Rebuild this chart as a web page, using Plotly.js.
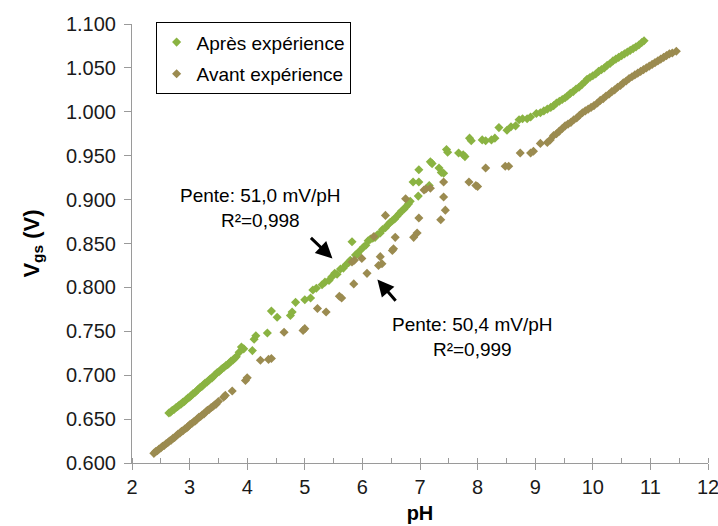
<!DOCTYPE html>
<html>
<head>
<meta charset="utf-8">
<script src="https://cdn.plot.ly/plotly-3.0.1.min.js"></script>
<style>html,body{margin:0;padding:0;background:#fff;}#chart{width:718px;height:526px;}</style>
</head>
<body>
<div id="chart"></div>
<script>
// "Après expérience" series
const apresPH = [2.64,2.67,2.70,2.73,2.76,2.79,2.82,2.85,2.88,2.91,2.94,2.97,3.00,3.03,3.06,3.09,3.12,3.15,3.18,3.21,3.24,3.27,3.30,3.33,3.36,3.39,3.42,3.45,3.48,3.51,3.54,3.57,3.60,3.63,3.66,3.69,3.72,3.75,3.78,3.81,
3.86,3.90,3.94,4.09,4.12,4.15,4.35,4.42,4.52,4.75,4.78,4.84,5.00,5.10,5.14,5.20,5.30,5.35,5.42,5.47,5.52,5.56,5.62,5.67,5.72,5.76,5.79,5.82,5.88,5.92,5.96,6.02,6.06,6.10,6.14,6.18,6.22,6.26,6.31,6.35,6.40,6.44,6.48,6.52,6.56,6.60,6.64,6.68,6.72,6.76,6.80,6.83,
6.88,6.98,6.97,6.98,7.16,7.18,7.21,7.33,7.37,7.41,7.46,7.48,7.67,7.75,7.78,7.86,7.89,8.08,8.14,8.24,8.30,8.37,8.51,8.58,8.66,8.72,8.78,8.86,8.92,9.02,9.09,9.15,9.21,9.27,9.32,9.37,9.42,9.47,9.52,9.56,9.61,9.66,9.71,9.76,9.81,9.86,9.90,9.95,10.00,10.05,10.10,10.15,10.20,10.25,10.30,10.35,10.40,10.45,10.50,10.55,10.60,10.65,10.70,10.75,10.80,10.85,10.89];
const apresV = [0.657,0.658,0.660,0.661,0.663,0.664,0.666,0.667,0.669,0.670,0.672,0.674,0.675,0.677,0.679,0.680,0.682,0.684,0.686,0.687,0.689,0.691,0.692,0.694,0.696,0.697,0.699,0.701,0.703,0.704,0.706,0.708,0.709,0.711,0.712,0.714,0.716,0.717,0.719,0.721,
0.726,0.732,0.730,0.728,0.741,0.745,0.748,0.773,0.766,0.768,0.772,0.783,0.786,0.788,0.797,0.799,0.803,0.806,0.808,0.812,0.816,0.815,0.821,0.822,0.826,0.828,0.831,0.852,0.837,0.838,0.842,0.846,0.848,0.853,0.855,0.856,0.857,0.860,0.862,0.866,0.868,0.871,0.874,0.876,0.878,0.881,0.884,0.887,0.889,0.892,0.895,0.898,
0.920,0.934,0.904,0.920,0.916,0.943,0.941,0.936,0.931,0.930,0.957,0.954,0.953,0.951,0.949,0.970,0.967,0.968,0.967,0.968,0.970,0.982,0.979,0.983,0.984,0.991,0.992,0.992,0.994,0.998,0.999,1.001,1.003,1.005,1.007,1.010,1.012,1.014,1.016,1.018,1.021,1.023,1.026,1.028,1.031,1.034,1.037,1.039,1.041,1.043,1.046,1.048,1.050,1.053,1.055,1.058,1.060,1.062,1.064,1.066,1.068,1.070,1.072,1.074,1.076,1.079,1.081];

// "Avant expérience" series
const avantPH = [2.38,2.41,2.44,2.47,2.50,2.53,2.56,2.59,2.62,2.65,2.68,2.71,2.74,2.77,2.80,2.83,2.86,2.89,2.92,2.95,2.98,3.01,3.04,3.07,3.10,3.13,3.16,3.19,3.22,3.25,3.28,3.31,3.34,3.37,3.40,3.43,3.46,3.50,
3.59,3.62,3.74,3.97,4.00,4.23,4.37,4.42,4.64,4.97,5.00,5.22,5.37,5.60,5.64,5.85,5.82,5.86,5.99,6.08,6.20,6.28,6.31,6.34,6.40,6.52,6.54,6.57,6.75,6.89,6.95,6.98,7.07,7.10,7.18,7.36,7.41,7.41,7.44,7.85,7.97,8.00,8.14,8.48,8.54,8.74,8.92,8.97,9.09,9.21,9.26,9.32,9.37,9.42,9.47,9.52,
9.57,9.62,9.67,9.72,9.77,9.82,9.87,9.92,9.97,10.02,10.08,10.13,10.18,10.23,10.28,10.33,10.38,10.43,10.48,10.53,10.58,10.63,10.68,10.73,10.78,10.83,10.88,10.93,10.98,11.03,11.08,11.13,11.18,11.23,11.28,11.33,11.38,11.45];
const avantV = [0.611,0.613,0.614,0.616,0.617,0.619,0.620,0.622,0.623,0.625,0.626,0.628,0.629,0.631,0.633,0.634,0.636,0.637,0.639,0.640,0.642,0.644,0.645,0.647,0.648,0.650,0.652,0.653,0.655,0.656,0.658,0.660,0.661,0.663,0.664,0.666,0.667,0.670,
0.675,0.677,0.682,0.694,0.697,0.717,0.718,0.719,0.749,0.751,0.753,0.776,0.772,0.790,0.788,0.804,0.829,0.831,0.833,0.816,0.858,0.825,0.835,0.827,0.882,0.842,0.844,0.857,0.901,0.857,0.862,0.879,0.911,0.912,0.913,0.877,0.903,0.920,0.888,0.920,0.916,0.915,0.936,0.938,0.938,0.953,0.953,0.955,0.964,0.965,0.968,0.973,0.975,0.978,0.981,0.984,
0.986,0.988,0.991,0.993,0.996,0.999,1.001,1.003,1.005,1.007,1.010,1.013,1.015,1.018,1.020,1.023,1.025,1.028,1.030,1.033,1.035,1.038,1.040,1.042,1.044,1.046,1.048,1.050,1.052,1.054,1.056,1.058,1.060,1.062,1.064,1.066,1.067,1.069];

const seriesNames = ["Après expérience", "Avant expérience"];
const xTitle = "pH";
const yTitle = "V<sub>gs</sub> (V)";
const noteApres = "Pente: 51,0 mV/pH<br>R²=0,998";
const noteAvant = "Pente: 50,4 mV/pH<br>R²=0,999";

const GREEN = "#8AB342";
const BROWN = "#9B8B50";
const FONT = "Liberation Sans, Arial, sans-serif";
const TXT = 19;

const traces = [
  {x: apresPH, y: apresV, type: "scatter", mode: "markers", name: seriesNames[0], legendgroup: "a",
   marker: {symbol: "diamond", size: 7, color: GREEN}},
  {x: avantPH, y: avantV, type: "scatter", mode: "markers", name: seriesNames[1], legendgroup: "b",
   marker: {symbol: "diamond", size: 7, color: BROWN}}
];

const layout = {
  width: 718, height: 526,
  margin: {l: 132, r: 10, t: 24, b: 63},
  paper_bgcolor: "#fff", plot_bgcolor: "#fff",
  font: {family: FONT, size: TXT, color: "#1a1a1a"},
  showlegend: true,
  legend: {x: 0.041, y: 1.004, xanchor: "left", yanchor: "top", bgcolor: "#fff",
           bordercolor: "#000", borderwidth: 1, font: {family: FONT, size: TXT, color: "#000"},
           traceorder: "grouped", tracegroupgap: 4, itemwidth: 30},
  xaxis: {range: [2, 12], dtick: 1, tick0: 2, showgrid: false, zeroline: false,
          showline: true, linecolor: "#9a9a9a", linewidth: 1,
          ticks: "outside", ticklen: 6, tickcolor: "#9a9a9a", ticklabeloverflow: "allow",
          minor: {dtick: 0.5, ticks: "inside", ticklen: 5, tickcolor: "#9a9a9a"},
          tickfont: {family: FONT, size: 20, color: "#1a1a1a"},
          title: {text: xTitle, font: {family: FONT, size: 20, color: "#000", weight: "bold"}, standoff: 8}},
  yaxis: {range: [0.6, 1.1], dtick: 0.05, tick0: 0.6, tickformat: ".3f", showgrid: false, zeroline: false,
          showline: true, linecolor: "#9a9a9a", linewidth: 1,
          ticks: "outside", ticklen: 7, tickcolor: "#9a9a9a", ticklabelstandoff: 4,
          tickfont: {family: FONT, size: 20, color: "#1a1a1a"},
          title: {text: yTitle, font: {family: FONT, size: 22, color: "#000", weight: "bold"}, standoff: 20}},
  annotations: [
    {x: 4.23, y: 0.890, xref: "x", yref: "y", text: noteApres, showarrow: false, align: "center",
     font: {family: FONT, size: TXT, color: "#000"}},
    {x: 7.91, y: 0.744, xref: "x", yref: "y", text: noteAvant, showarrow: false, align: "center",
     font: {family: FONT, size: TXT, color: "#000"}},
    {x: 5.48, y: 0.833, xref: "x", yref: "y", ax: 5.08, ay: 0.858, axref: "x", ayref: "y",
     text: "", showarrow: true, arrowhead: 2, arrowsize: 1.1, arrowwidth: 3, arrowcolor: "#000"},
    {x: 6.26, y: 0.809, xref: "x", yref: "y", ax: 6.60, ay: 0.783, axref: "x", ayref: "y",
     text: "", showarrow: true, arrowhead: 2, arrowsize: 1.1, arrowwidth: 3, arrowcolor: "#000"}
  ]
};

Plotly.newPlot("chart", traces, layout, {displayModeBar: false, staticPlot: true});
</script>
</body>
</html>
